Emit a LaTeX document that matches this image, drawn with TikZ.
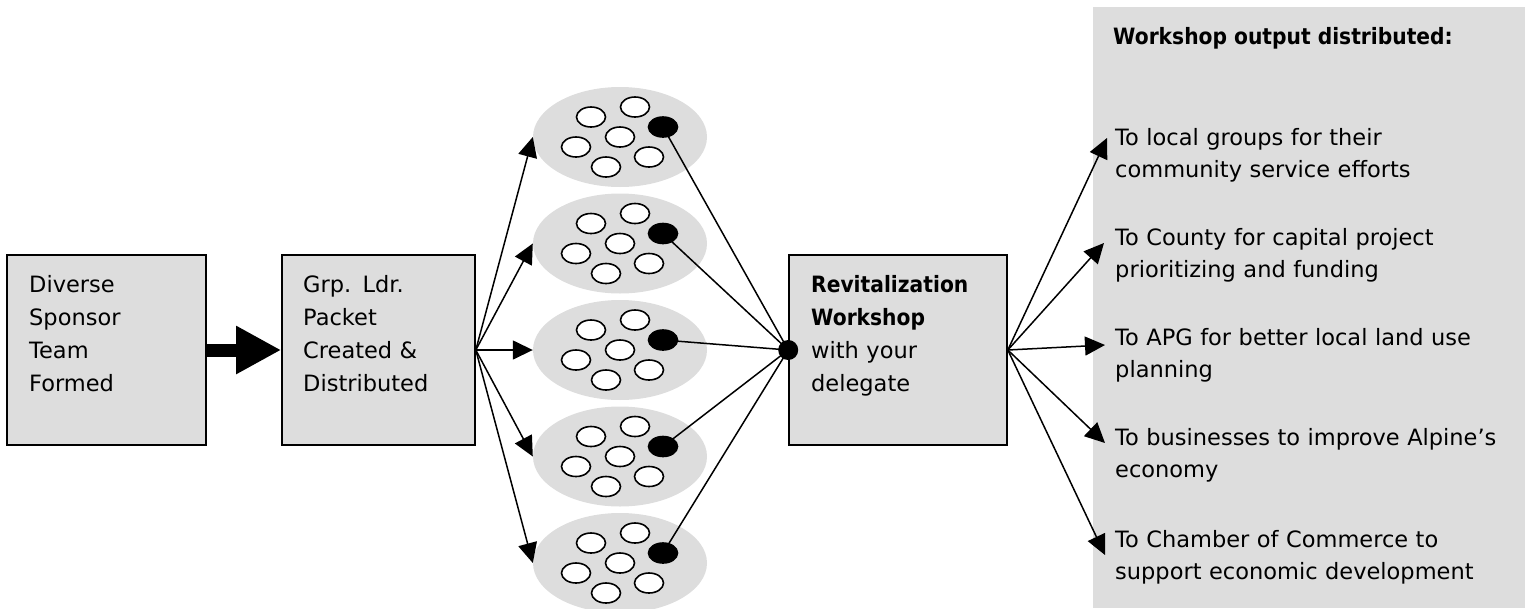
\documentclass[tikz,border=0pt]{standalone}
\usepackage{fontspec}
\setmainfont{DejaVu Sans}[BoldFeatures={FakeStretch=0.9}]
\usetikzlibrary{shapes.geometric,arrows.meta}
\definecolor{panelgray}{RGB}{221,221,221}
\begin{document}
\begin{tikzpicture}[x=1pt,y=-1pt,
  box/.style={draw=black,line width=1.6pt,fill=panelgray,minimum width=#1,minimum height=190pt,inner sep=0pt},
  boxtext/.style={anchor=base west,align=left,text width=190pt,inner sep=0pt,font=\fontsize{22.5}{33.3}\selectfont},
  itemtext/.style={anchor=base west,align=left,text width=400pt,inner sep=0pt,font=\fontsize{22.5}{32.5}\selectfont},
  grp/.style={ellipse,fill=panelgray,draw=none,minimum width=174pt,minimum height=100pt,inner sep=0pt},
  pers/.style={ellipse,draw=black,line width=1.6pt,fill=white,minimum width=29pt,minimum height=20pt,inner sep=0pt},
  lead/.style={pers,fill=black},
  conn/.style={line width=1.5pt},
  arr/.style={conn,-{Triangle[length=20pt,width=19pt]}},
  bigarr/.style={line width=13pt,-{Triangle[length=45pt,width=45pt]}}
]
\useasboundingbox (0,0) rectangle (1525,608);
% right panel
\fill[panelgray] (1093,7) rectangle (1525,608);
\node[anchor=base west,inner sep=0pt,font=\fontsize{22.5}{33.3}\selectfont\bfseries] (title) at (1113,44) {Workshop output distributed:};

% boxes
\node[box=199pt] (b1) at (106.5,350) {};
\node[box=193pt] (b2) at (378.5,350) {};
\node[box=218pt] (b3) at (898,350) {};
\node[boxtext] (b1t) at (29,292) {Diverse\\Sponsor\\Team\\Formed};
\node[boxtext] (b2t) at (303,292) {Grp. Ldr.\\Packet\\Created \&\\Distributed};
\node[boxtext] (b3t) at (811,292) {\textbf{Revitalization}\\\textbf{Workshop}\\with your\\delegate};

\draw[bigarr] (b1.east) -- (b2.west);

% groups
\foreach \i/\cy in {1/137,2/243.5,3/350,4/456.5,5/563}{
  \node[grp] (e\i) at (620,\cy) {};
  \node[pers] (p\i a) at (591,\cy-20) {};
  \node[pers] (p\i b) at (635,\cy-30) {};
  \node[pers] (p\i c) at (620,\cy) {};
  \node[pers] (p\i d) at (576,\cy+10) {};
  \node[pers] (p\i e) at (649,\cy+20) {};
  \node[pers] (p\i f) at (606,\cy+30) {};
  \node[lead] (k\i) at (663,\cy-10) {};
}

\node[circle,fill=black,inner sep=0pt,minimum size=20pt] (dot) at (b3.west) {};

\foreach \i in {1,...,5}{
  \draw[arr] (b2.east) -- (e\i.west);
  \draw[conn] (k\i.center) -- (dot.center);
}

% outputs
\node[itemtext] (o1) at (1115,145) {To local groups for their\\community service efforts};
\node[itemtext] (o2) at (1115,245) {To County for capital project\\prioritizing and funding};
\node[itemtext] (o3) at (1115,345) {To APG for better local land use\\planning};
\node[itemtext] (o4) at (1115,445) {To businesses to improve Alpine’s\\economy};
\node[itemtext] (o5) at (1115,547) {To Chamber of Commerce to\\support economic development};

\coordinate (t1) at (1107,138);
\coordinate (t2) at (1104,243);
\coordinate (t3) at (1105,345);
\coordinate (t4) at (1105,443);
\coordinate (t5) at (1105,555);
\foreach \i in {1,...,5}{
  \draw[arr] (b3.east) -- (t\i);
}
\end{tikzpicture}
\end{document}
